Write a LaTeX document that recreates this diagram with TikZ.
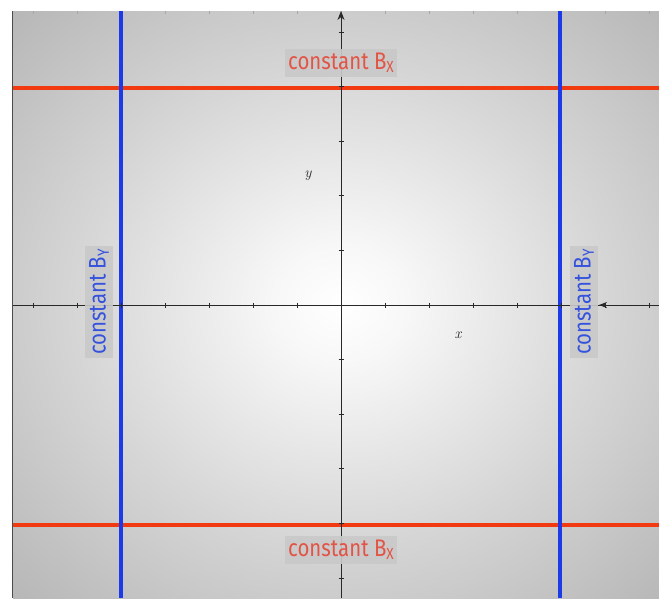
\documentclass[tikz,border=0pt]{standalone}
\usepackage{fontspec}
\newfontfamily\labfont[FakeStretch=0.85]{Fira Sans}
\usetikzlibrary{arrows.meta}
\definecolor{redline}{RGB}{242,58,18}
\definecolor{redtext}{RGB}{226,84,70}
\definecolor{blueline}{RGB}{28,58,232}
\definecolor{bluetext}{RGB}{52,82,222}
\definecolor{axiscol}{RGB}{40,40,40}
\pgfdeclareradialshading{bgshade}{\pgfpoint{0bp}{0bp}}{color(0bp)=(white); color(5bp)=(white!97!black); color(20bp)=(white!84!black); color(35bp)=(white!72!black); color(50bp)=(white!65!black)}
\tikzset{
  redl/.style={redline, line width=3.2},
  bluel/.style={blueline, line width=3.2},
  axis/.style={axiscol, line width=1},
  tickmark/.style={axiscol, line width=0.9},
  lab/.style={font=\labfont\fontsize{24}{26}\selectfont, fill=white!79!black, fill opacity=0.9, text opacity=1, inner xsep=3, inner ysep=4},
  axlab/.style={font=\fontsize{15}{16}\selectfont\itshape, text=axiscol}
}
\newcommand{\Bsub}[1]{B\raisebox{-0.25ex}{\fontsize{16}{16}\selectfont #1}}
\begin{document}
\begin{tikzpicture}[x=1pt,y=-1pt]
\useasboundingbox (0,0) rectangle (659,598);
\fill[white] (0,0) rectangle (659,598);
\shade[shading=bgshade] (13,11) rectangle (669,598);
\draw[gray!60!black, line width=0.8] (12.5,11) -- (12.5,598);
\foreach \k in {-7,...,7} \draw[gray!70, line width=0.6] (341+\k*44,11) -- ++(0,2.5);
% constant field lines
\coordinate (rtl) at (13,88); \coordinate (rtr) at (659,88);
\coordinate (rbl) at (13,525); \coordinate (rbr) at (659,525);
\coordinate (blt) at (121,11); \coordinate (blb) at (121,598);
\coordinate (brt) at (560,11); \coordinate (brb) at (560,598);
\draw[redl] (rtl) -- (rtr);
\draw[redl] (rbl) -- (rbr);
\draw[bluel] (blt) -- (blb);
\draw[bluel] (brt) -- (brb);
% axes
\coordinate (O) at (341,305);
\coordinate (ytop) at (341,11);
\coordinate (ybot) at (341,598);
\coordinate (xl) at (13,305);
\coordinate (xr) at (659,305);
\draw[axis, -{Stealth[length=9,width=7]}] (ybot) -- (ytop);
\draw[axis] (xl) -- (xr);
\foreach \k in {-5,...,5} \draw[tickmark] (338.5,305+\k*54.6) -- ++(5,0);
\foreach \k in {-7,...,7} \draw[tickmark] (341+\k*44,302.5) -- ++(0,5);
% labels
\node[lab, text=redtext] (topl) at (341,63) {constant \Bsub{X}};
\node[lab, text=redtext] (botl) at (341,550) {constant \Bsub{X}};
\node[lab, text=bluetext, rotate=90] (leftl) at (99,302) {constant \Bsub{Y}};
\node[lab, text=bluetext, rotate=90] (rightl) at (584,302) {constant \Bsub{Y}};
\coordinate (arrs) at (610,305);
\coordinate (arre) at (599,305);
\draw[axis, -{Stealth[length=8,width=6]}] (arrs) -- (arre);
\node[axlab] (ylab) at (308,176) {y};
\node[axlab] (xlab) at (458,335) {x};
\end{tikzpicture}
\end{document}
